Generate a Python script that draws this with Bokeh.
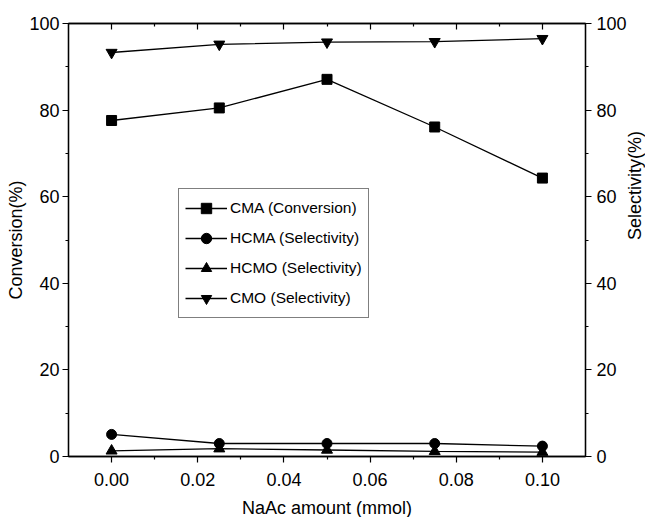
import math
from bokeh.plotting import figure
from bokeh.models import Range1d, LinearAxis, FixedTicker, PrintfTickFormatter, Legend, LegendItem, Grid
from bokeh.embed import file_html
from bokeh.resources import INLINE

# Data
naac = [0.0, 0.025, 0.05, 0.075, 0.10]
cma_conversion = [77.6, 80.5, 87.1, 76.1, 64.3]
hcma_selectivity = [5.1, 3.0, 3.0, 3.0, 2.4]
hcmo_selectivity = [1.3, 1.8, 1.5, 1.2, 1.0]
cmo_selectivity = [93.3, 95.2, 95.7, 95.8, 96.5]

x_major = [0.0, 0.02, 0.04, 0.06, 0.08, 0.10]
x_minor = [0.01, 0.03, 0.05, 0.07, 0.09]
y_major = [0, 20, 40, 60, 80, 100]
y_minor = [10, 30, 50, 70, 90]

x_title = "NaAc amount (mmol)"
y_left_title = "Conversion(%)"
y_right_title = "Selectivity(%)"

FONT = "Liberation Sans"

p = figure(frame_width=517, frame_height=433,
           x_range=Range1d(-0.01, 0.11), y_range=Range1d(0, 100),
           output_backend="svg", toolbar_location=None,
           x_axis_location=None, y_axis_location=None,
           min_border_left=68, min_border_right=10,
           min_border_top=23, min_border_bottom=10)
p.extra_y_ranges = {"sel": Range1d(0, 100)}
p.outline_line_color = "black"
p.outline_line_width = 1.3
p.background_fill_color = "white"
p.border_fill_color = "white"
for g in p.select(type=Grid):
    g.visible = False


def style_axis(ax, show_labels=True, inward=False):
    ax.axis_line_color = "black"
    ax.axis_line_width = 1.3
    ax.major_tick_line_color = "black"
    ax.minor_tick_line_color = "black"
    ax.major_tick_line_width = 1.2
    ax.minor_tick_line_width = 1.2
    if inward:
        ax.major_tick_in = 6
        ax.major_tick_out = 0
        ax.minor_tick_in = 3
        ax.minor_tick_out = 0
    else:
        ax.major_tick_in = 0
        ax.major_tick_out = 6
        ax.minor_tick_in = 0
        ax.minor_tick_out = 3
    ax.major_label_text_font = FONT
    ax.major_label_text_font_size = "18px"
    ax.major_label_text_color = "black"
    ax.major_label_standoff = 3
    ax.axis_label_text_font = FONT
    ax.axis_label_text_font_size = "18px"
    ax.axis_label_text_font_style = "normal"
    ax.axis_label_text_color = "black"
    if not show_labels:
        ax.major_label_text_font_size = "0px"
        ax.major_label_text_alpha = 0


xb = LinearAxis(ticker=FixedTicker(ticks=x_major, minor_ticks=x_minor),
                formatter=PrintfTickFormatter(format="%.2f"),
                axis_label=x_title)
style_axis(xb)
xb.major_label_standoff = 10
xb.axis_label_standoff = 9
p.add_layout(xb, "below")

xt = LinearAxis(ticker=FixedTicker(ticks=x_major, minor_ticks=x_minor))
style_axis(xt, show_labels=False, inward=True)
p.add_layout(xt, "above")

yl = LinearAxis(ticker=FixedTicker(ticks=y_major, minor_ticks=y_minor),
                axis_label=y_left_title)
style_axis(yl)
yl.major_label_standoff = 3
yl.axis_label_standoff = 0
p.add_layout(yl, "left")

yr = LinearAxis(y_range_name="sel",
                ticker=FixedTicker(ticks=y_major, minor_ticks=y_minor),
                axis_label=y_right_title)
style_axis(yr)
yr.major_label_standoff = 5
yr.axis_label_standoff = 5
yr.axis_label_orientation = math.pi / 2
p.add_layout(yr, "right")

LW = 1.3
l1 = p.line(naac, cma_conversion, line_color="black", line_width=LW)
s1 = p.scatter(naac, cma_conversion, marker="square", size=10, color="black")

l2 = p.line(naac, hcma_selectivity, line_color="black", line_width=LW, y_range_name="sel")
s2 = p.scatter(naac, hcma_selectivity, marker="circle", size=10, color="black", y_range_name="sel")

l3 = p.line(naac, hcmo_selectivity, line_color="black", line_width=LW, y_range_name="sel")
s3 = p.scatter(naac, hcmo_selectivity, marker="triangle", size=11, color="black", y_range_name="sel")

l4 = p.line(naac, cmo_selectivity, line_color="black", line_width=LW, y_range_name="sel")
s4 = p.scatter(naac, cmo_selectivity, marker="inverted_triangle", size=11, color="black", y_range_name="sel")

legend = Legend(items=[
    LegendItem(label="CMA (Conversion)", renderers=[l1, s1]),
    LegendItem(label="HCMA (Selectivity)", renderers=[l2, s2]),
    LegendItem(label="HCMO (Selectivity)", renderers=[l3, s3]),
    LegendItem(label="CMO (Selectivity)", renderers=[l4, s4]),
], location=(110, 138))
legend.label_text_font = FONT
legend.label_text_font_size = "15.5px"
legend.label_text_color = "black"
legend.border_line_color = "black"
legend.border_line_width = 1.2
legend.background_fill_alpha = 1
legend.padding = 6
legend.spacing = 4
legend.label_height = 26
legend.glyph_height = 26
legend.glyph_width = 42
legend.label_standoff = 3
legend.margin = 0
p.add_layout(legend, "center")

open("out.html", "w").write(file_html(p, INLINE))
